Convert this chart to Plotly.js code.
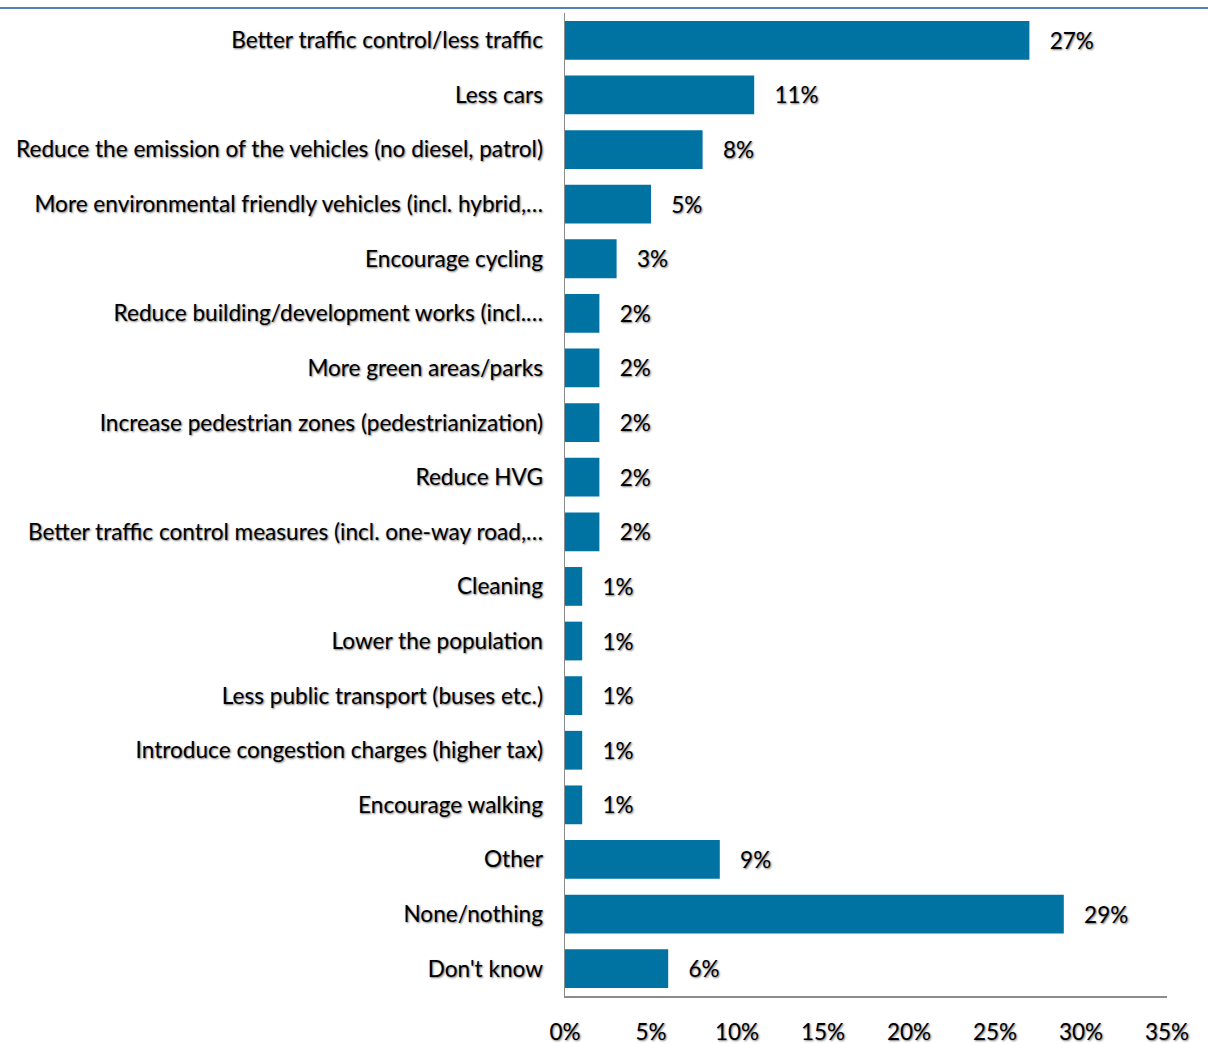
<!DOCTYPE html>
<html>
<head>
<meta charset="utf-8">
<script src="https://cdn.plot.ly/plotly-3.0.1.min.js"></script>
<style>html,body{margin:0;padding:0;background:#fff;}#chart{width:1208px;height:1044px;}</style>
</head>
<body>
<div id="chart"></div>
<script>
const categories = [
  "Better traffic control/less traffic",
  "Less cars",
  "Reduce the emission of the vehicles (no diesel, patrol)",
  "More environmental friendly vehicles (incl. hybrid,…",
  "Encourage cycling",
  "Reduce building/development works (incl.…",
  "More green areas/parks",
  "Increase pedestrian zones (pedestrianization)",
  "Reduce HVG",
  "Better traffic control measures (incl. one-way road,…",
  "Cleaning",
  "Lower the population",
  "Less public transport (buses etc.)",
  "Introduce congestion charges (higher tax)",
  "Encourage walking",
  "Other",
  "None/nothing",
  "Don't know"
];
const values = [27, 11, 8, 5, 3, 2, 2, 2, 2, 2, 1, 1, 1, 1, 1, 9, 29, 6];
const xTicks = [0, 5, 10, 15, 20, 25, 30, 35];

const shadow = "1px 1px 2px rgba(0,0,0,0.55)";
const fontFam = "Lato, 'Noto Sans', sans-serif";

const trace = {
  type: "bar",
  orientation: "h",
  y: categories,
  x: values,
  marker: {color: "#0073a3", line: {width: 0}},
  text: values.map(v => "\u00a0\u00a0\u00a0" + v + "%"),
  textposition: "outside",
  cliponaxis: false,
  textfont: {family: fontFam, size: 22.5, color: "#000", shadow: shadow},
  hoverinfo: "none"
};

const layout = {
  width: 1208, height: 1044,
  margin: {l: 565, r: 41, t: 13, b: 48},
  paper_bgcolor: "#fff", plot_bgcolor: "#fff",
  bargap: 0.29,
  showlegend: false,
  xaxis: {
    range: [0, 35],
    tickvals: xTicks,
    ticktext: xTicks.map(v => v + "%"),
    showgrid: false, zeroline: false,
    showline: true, linecolor: "#8c8c8c", linewidth: 1.5,
    ticks: "", ticklabelstandoff: 15,
    tickfont: {family: fontFam, size: 22.5, color: "#000", shadow: shadow}
  },
  yaxis: {
    autorange: "reversed",
    showgrid: false, zeroline: false,
    showline: true, linecolor: "#8c8c8c", linewidth: 1.5,
    ticks: "", ticklabelstandoff: 16,
    tickfont: {family: fontFam, size: 22.6, color: "#000", shadow: shadow}
  },
  shapes: [{
    type: "line", xref: "paper", yref: "paper",
    x0: -565/602, x1: (1208-565)/602, y0: 1 + 5/983, y1: 1 + 5/983,
    line: {color: "#4f81bd", width: 2}
  }]
};

Plotly.newPlot("chart", [trace], layout, {displayModeBar: false, staticPlot: true});
</script>
</body>
</html>
